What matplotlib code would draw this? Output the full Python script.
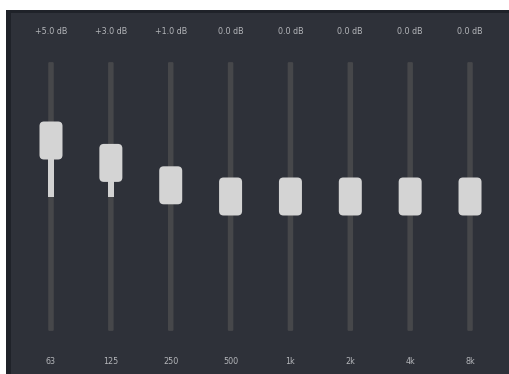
import matplotlib
matplotlib.use("Agg")
import matplotlib.pyplot as plt
from matplotlib.patches import FancyBboxPatch, Rectangle

# equalizer bands and gains (dB)
bands = ["63", "125", "250", "500", "1k", "2k", "4k", "8k"]
gains = [5.0, 3.0, 1.0, 0.0, 0.0, 0.0, 0.0, 0.0]
gain_range = 12.0

W, H = 509, 374
fig = plt.figure(figsize=(W / 100, H / 100), dpi=100, facecolor="white")

# panel background (pixel coords)
bg = fig.add_axes([0, 0, 1, 1])
bg.set_xlim(0, W)
bg.set_ylim(H, 0)
bg.axis("off")
bg.add_patch(Rectangle((6, 10), W - 6, H - 10, facecolor="#1f2229", edgecolor="none"))
bg.add_patch(Rectangle((11, 13), W - 11, H - 13, facecolor="#2e3139", edgecolor="none"))

# slider axes: x = band index, y = dB
ax = fig.add_axes([0, 0, 1, 1])
ax.patch.set_alpha(0)
ax.axis("off")
px_per_band = 59.86
px_per_db = 11.2
x0, y0 = 51, 196.5
ax.set_xlim(-x0 / px_per_band, (W - x0) / px_per_band)
ax.set_ylim((y0 - H) / px_per_db, y0 / px_per_db)

# sizes in data units
track_w = 5.5 / px_per_band
fill_w = 6.5 / px_per_band
thumb_w = 23 / px_per_band
thumb_h = 38 / px_per_db

for i, (b, g) in enumerate(zip(bands, gains)):
    # track
    ax.add_patch(FancyBboxPatch((i - track_w / 2, -gain_range), track_w, 2 * gain_range,
                                boxstyle="round,pad=0,rounding_size=0.02",
                                mutation_aspect=px_per_band / px_per_db,
                                facecolor="#46474a", edgecolor="none"))
    # filled part from zero to value
    if g != 0:
        ax.add_patch(Rectangle((i - fill_w / 2, min(0, g)), fill_w, abs(g),
                               facecolor="#d2d2d2", edgecolor="none"))
    # thumb
    ax.add_patch(FancyBboxPatch((i - thumb_w / 2, g - thumb_h / 2), thumb_w, thumb_h,
                                boxstyle="round,pad=0,rounding_size=0.075",
                                mutation_aspect=px_per_band / px_per_db,
                                facecolor="#d4d4d4", edgecolor="none"))
    # labels
    ax.text(i, (y0 - 31) / px_per_db, "%+.1f dB" % g if g != 0 else "0.0 dB",
            ha="center", va="center", fontsize=5.8, color="#b4b6ba")
    ax.text(i, (y0 - 361) / px_per_db, b,
            ha="center", va="center", fontsize=5.8, color="#b4b6ba")

fig.savefig("out.png", dpi=100, facecolor="white")
